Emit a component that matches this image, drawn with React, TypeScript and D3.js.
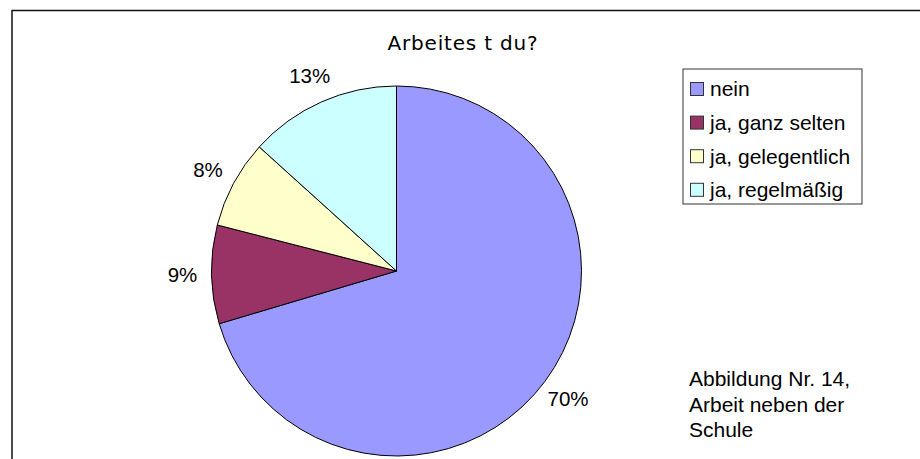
import * as d3 from 'd3'

const categories = ['nein', 'ja, ganz selten', 'ja, gelegentlich', 'ja, regelmäßig']
const shares = [70.4, 8.6, 7.7, 13.3]
const colors = ['#9999FF', '#993366', '#FFFFCC', '#CCFFFF']
const title = 'Arbeites t du?'
const noteLines = ['Abbildung Nr. 14,', 'Arbeit neben der', 'Schule']

export default function App() {
  const width = 920
  const height = 459
  const cx = 396.5
  const cy = 271
  const radius = 185

  const data = categories.map((c, i) => ({ label: c, value: shares[i], color: colors[i] }))
  const total = d3.sum(shares)

  const pie = d3.pie<any>().sort(null).value(d => d.value)
  const arcs = pie(data)
  const arc = d3.arc<any>().innerRadius(0).outerRadius(radius)
  const labelArc = d3.arc<any>().innerRadius(214).outerRadius(214)
  const fmt = (v: number) => Math.round((v / total) * 100) + '%'

  const font = '"Liberation Sans", Arial, sans-serif'

  return (
    <svg width={width} height={height} style={{ position: 'absolute', left: 0, top: 0, background: '#fff' }}>
      {/* outer frame, only top and left visible */}
      <line x1={12} y1={10.5} x2={width} y2={10.5} stroke="#111" strokeWidth={1.5} />
      <line x1={12} y1={10} x2={12} y2={height} stroke="#111" strokeWidth={1.5} />

      <text x={463} y={50} textAnchor="middle" fontFamily='"DejaVu Sans", Verdana, sans-serif'
        fontSize={20} letterSpacing={0.8} fill="#000">{title}</text>

      <g transform={`translate(${cx},${cy})`}>
        {arcs.map((a, i) => (
          <path key={i} d={arc(a) || ''} fill={a.data.color} stroke="#000" strokeWidth={1} strokeLinejoin="round" />
        ))}
        {arcs.map((a, i) => {
          const [x, y] = labelArc.centroid(a)
          return (
            <text key={'l' + i} x={x} y={y} dy="0.35em" textAnchor="middle"
              fontFamily={font} fontSize={20.5} fill="#000">{fmt(a.data.value)}</text>
          )
        })}
      </g>

      <g>
        <rect x={683} y={69} width={179} height={135} fill="#fff" stroke="#333" strokeWidth={1} />
        {data.map((d, i) => {
          const y = 89 + i * 33.6
          return (
            <g key={i}>
              <rect x={690.5} y={y - 6.5} width={13} height={13} fill={d.color} stroke="#333" strokeWidth={1} />
              <text x={710} y={y} dy="0.35em" fontFamily={font} fontSize={21} fill="#000">{d.label}</text>
            </g>
          )
        })}
      </g>

      {noteLines.map((t, i) => (
        <text key={i} x={689} y={386 + i * 25.5} fontFamily={font} fontSize={21} fill="#000">{t}</text>
      ))}
    </svg>
  )
}
